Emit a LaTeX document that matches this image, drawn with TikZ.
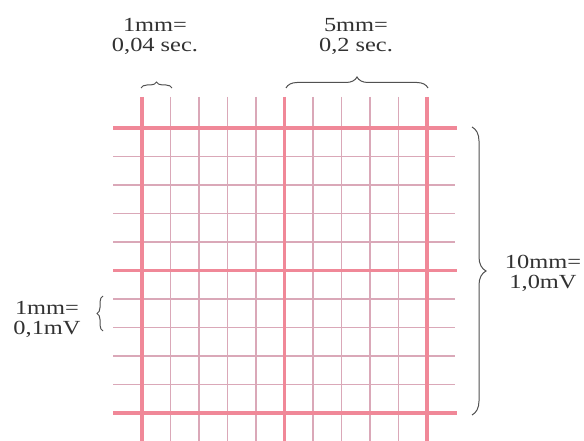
\documentclass[tikz,border=0pt]{standalone}
\usepackage{fontspec}
\setmainfont[FakeStretch=1.22]{Liberation Serif}
\usetikzlibrary{decorations.pathreplacing}
\definecolor{thickred}{RGB}{240,136,152}
\definecolor{thinred}{RGB}{218,168,184}
\definecolor{txt}{RGB}{50,50,50}
\tikzset{
  thinline/.style={draw=thinred,line width=1.4pt},
  thickline/.style={draw=thickred,line width=3.6pt},
  bracestyle/.style={draw=txt!85,line width=1pt,decorate},
  lbl/.style={text=txt,align=center,inner sep=0pt,font=\fontsize{20}{20}\selectfont}
}
\begin{document}
\begin{tikzpicture}[x=1pt,y=-1pt]
\useasboundingbox[fill=white] (0,0) rectangle (584,441);
% thin grid lines
\foreach \i in {1,2,3,4,6,7,8,9}{
  \draw[thinline] ({142+28.5*\i},97) -- ({142+28.5*\i},441);
  \draw[thinline] (113,{128+28.5*\i}) -- (455,{128+28.5*\i});
}
% thick grid lines
\foreach \i in {0,5,10}{
  \draw[thickline] ({142+28.5*\i},97) -- ({142+28.5*\i},441);
  \draw[thickline] (113,{128+28.5*\i}) -- (457,{128+28.5*\i});
}
% brace anchors
\coordinate (b1s) at (141,88);
\coordinate (b1e) at (172,88);
\coordinate (b2s) at (286,88);
\coordinate (b2e) at (428,88);
\coordinate (b3s) at (472,127);
\coordinate (b3e) at (472,415);
\coordinate (b4s) at (103,331);
\coordinate (b4e) at (103,296);
\draw[bracestyle,decoration={brace,amplitude=6pt}] (b1s) -- (b1e);
\draw[bracestyle,decoration={brace,amplitude=11pt}] (b2s) -- (b2e);
\draw[bracestyle,decoration={brace,amplitude=14pt}] (b3s) -- (b3e);
\draw[bracestyle,decoration={brace,amplitude=6pt}] (b4s) -- (b4e);
% labels
\node[lbl] (t1) at (155,36) {1mm=\\0,04 sec.};
\node[lbl] (t2) at (356,36) {5mm=\\0,2 sec.};
\node[lbl] (t3) at (543,273) {10mm=\\1,0mV};
\node[lbl] (t4) at (47,319) {1mm=\\0,1mV};
\end{tikzpicture}
\end{document}
